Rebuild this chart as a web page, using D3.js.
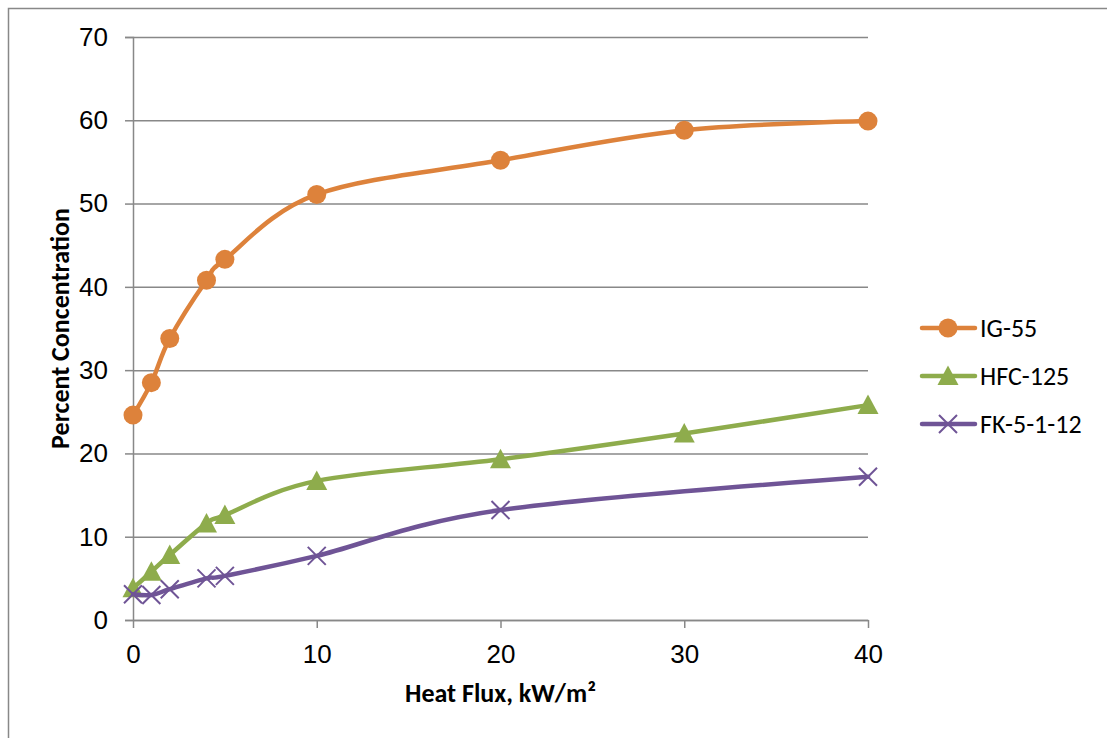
<!DOCTYPE html>
<html>
<head>
<meta charset="utf-8">
<script src="https://cdn.jsdelivr.net/npm/d3@7"></script>
<style>
  body { margin: 0; background: #fff; }
  svg { display: block; font-family: Carlito, Calibri, Lato, "Liberation Sans", sans-serif; }
</style>
</head>
<body>
<div id="chart"></div>
<script>
(function() {

    const seriesNames = ["IG-55", "HFC-125", "FK-5-1-12"];

    const ig55 = [
        {flux: 0, pct: 24.6},
        {flux: 1, pct: 28.5},
        {flux: 2, pct: 33.8},
        {flux: 4, pct: 40.8},
        {flux: 5, pct: 43.3},
        {flux: 10, pct: 51.1},
        {flux: 20, pct: 55.2},
        {flux: 30, pct: 58.8},
        {flux: 40, pct: 59.9},
    ];

    const hfc125 = [
        {flux: 0, pct: 3.8},
        {flux: 1, pct: 5.8},
        {flux: 2, pct: 7.8},
        {flux: 4, pct: 11.6},
        {flux: 5, pct: 12.6},
        {flux: 10, pct: 16.7},
        {flux: 20, pct: 19.3},
        {flux: 30, pct: 22.4},
        {flux: 40, pct: 25.8},
    ];

    const fk5112 = [
        {flux: 0, pct: 3.1},
        {flux: 1, pct: 3.0},
        {flux: 2, pct: 3.7},
        {flux: 4, pct: 5.0},
        {flux: 5, pct: 5.3},
        {flux: 10, pct: 7.7},
        {flux: 20, pct: 13.2},
        {flux: 40, pct: 17.2},
    ];

    const xTicks = [0, 10, 20, 30, 40];
    const yTicks = [0, 10, 20, 30, 40, 50, 60, 70];

    const width = 1107;
    const height = 738;
    const margin = {top: 37, right: 239, bottom: 118, left: 133};
    const fontSize = "26px";

    const colors = {"IG-55": "#dd823b", "HFC-125": "#8eac4c", "FK-5-1-12": "#6f5496"};
    const gridColor = "#888888";

    const series = [
        {name: seriesNames[0], values: ig55, marker: "circle"},
        {name: seriesNames[1], values: hfc125, marker: "triangle"},
        {name: seriesNames[2], values: fk5112, marker: "cross"},
    ];

    const x = d3.scaleLinear()
        .domain([0, 40])
        .range([margin.left, width - margin.right]);

    const y = d3.scaleLinear()
        .domain([0, 70])
        .range([height - margin.bottom, margin.top]);

    const svg = d3.select("#chart").append("svg")
        .attr("width", width)
        .attr("height", height);

    // chart area frame (runs off the right and bottom of the picture)
    svg.append("rect")
        .attr("x", 8.5)
        .attr("y", 8.5)
        .attr("width", width + 20)
        .attr("height", height + 20)
        .attr("fill", "white")
        .attr("stroke", gridColor)
        .attr("stroke-width", 1.5);

    // y axis with gridlines
    const yAxis = g => g
        .attr("transform", `translate(${margin.left},0)`)
        .call(d3.axisLeft(y).tickValues(yTicks).tickSize(8).tickPadding(17))
        .call(g => g.selectAll(".tick line").clone()
            .attr("x2", width - margin.right - margin.left)
            .attr("stroke", gridColor)
            .attr("stroke-width", 1.5))
        .call(g => g.selectAll("line, path").attr("stroke", gridColor).attr("stroke-width", 1.5))
        .call(g => g.selectAll("text").attr("font-size", fontSize).attr("fill", "#000"));

    const xAxis = g => g
        .attr("transform", `translate(0,${height - margin.bottom})`)
        .call(d3.axisBottom(x).tickValues(xTicks).tickSize(8).tickPadding(17).tickSizeOuter(0))
        .call(g => g.selectAll("line, path").attr("stroke", gridColor).attr("stroke-width", 1.5))
        .call(g => g.selectAll("text").attr("font-size", fontSize).attr("fill", "#000"));

    svg.append("g").call(yAxis);
    svg.append("g").call(xAxis);

    // axis titles
    svg.append("text")
        .attr("x", (margin.left + width - margin.right) / 2)
        .attr("y", 702)
        .attr("text-anchor", "middle")
        .attr("font-size", fontSize)
        .attr("font-weight", "bold")
        .text("Heat Flux, kW/m²");

    svg.append("text")
        .attr("transform", `translate(69,${(margin.top + height - margin.bottom) / 2}) rotate(-90)`)
        .attr("text-anchor", "middle")
        .attr("font-size", fontSize)
        .attr("font-weight", "bold")
        .text("Percent Concentration");

    const line = d3.line()
        .x(d => x(d.flux))
        .y(d => y(d.pct))
        .curve(d3.curveCardinal.tension(0));

    function drawMarker(g, type, color) {
        if (type === "circle") {
            g.append("circle").attr("r", 9.5).attr("fill", color);
        } else if (type === "triangle") {
            g.append("path")
                .attr("d", "M0,-10.5L10.5,9L-10.5,9Z")
                .attr("fill", color);
        } else {
            g.append("path")
                .attr("d", "M-9,-9L9,9M-9,9L9,-9")
                .attr("stroke", color)
                .attr("stroke-width", 2)
                .attr("fill", "none");
        }
    }

    series.forEach(s => {
        const color = colors[s.name];
        svg.append("path")
            .datum(s.values)
            .attr("fill", "none")
            .attr("stroke", color)
            .attr("stroke-width", 4.5)
            .attr("stroke-linecap", "round")
            .attr("d", line);

        svg.append("g")
            .selectAll("g")
            .data(s.values)
            .join("g")
            .attr("transform", d => `translate(${x(d.flux)},${y(d.pct)})`)
            .each(function() { drawMarker(d3.select(this), s.marker, color); });
    });

    // legend
    const legend = svg.append("g")
        .attr("transform", "translate(922,328)");

    series.forEach((s, i) => {
        const color = colors[s.name];
        const row = legend.append("g").attr("transform", `translate(0,${i * 48})`);
        row.append("line")
            .attr("x1", 0).attr("x2", 53)
            .attr("stroke", color)
            .attr("stroke-width", 4.5)
            .attr("stroke-linecap", "round");
        drawMarker(row.append("g").attr("transform", "translate(26,0)"), s.marker, color);
        row.append("text")
            .attr("x", 58)
            .attr("dy", "0.35em")
            .attr("font-size", fontSize)
            .text(s.name);
    });

})();
</script>
</body>
</html>
